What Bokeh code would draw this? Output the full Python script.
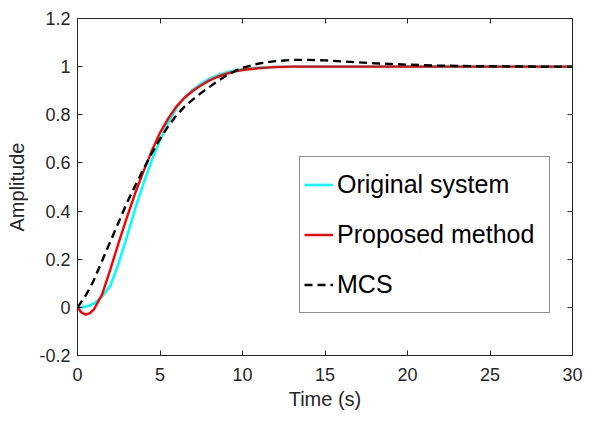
from bokeh.plotting import figure
from bokeh.models import FixedTicker, LinearAxis, Legend, LegendItem, Range1d
from bokeh.embed import file_html
from bokeh.resources import INLINE

# Step responses (time in seconds)
t = [0, 0.25, 0.5, 0.75, 1, 1.5, 2, 2.5, 3, 3.5, 4, 4.5, 5, 5.5, 6, 6.5, 7,
     7.5, 8, 8.5, 9, 9.5, 10, 11, 12, 13, 14, 15, 16, 17, 18, 19, 20, 22, 24,
     26, 28, 30]

original = [0, 0.001, 0.003, 0.008, 0.016, 0.045, 0.092, 0.185, 0.295, 0.41,
            0.515, 0.61, 0.695, 0.768, 0.828, 0.872, 0.905, 0.93, 0.95,
            0.965, 0.976, 0.984, 0.99, 0.996, 0.999, 1.0, 1.0, 1.0, 1.0,
            1.0, 1.0, 1.0, 1.0, 1.0, 1.0, 1.0, 1.0, 1.0]

proposed = [0, -0.022, -0.03, -0.024, -0.008, 0.055, 0.16, 0.27, 0.375, 0.475,
            0.565, 0.65, 0.725, 0.785, 0.835, 0.872, 0.9, 0.923, 0.943,
            0.958, 0.97, 0.979, 0.986, 0.994, 0.998, 1.0, 1.0, 1.0, 1.0,
            1.0, 1.0, 1.0, 1.0, 1.0, 1.0, 1.0, 1.0, 1.0]

mcs = [0, 0.025, 0.05, 0.08, 0.115, 0.195, 0.275, 0.355, 0.435, 0.505, 0.575,
       0.64, 0.7, 0.752, 0.798, 0.835, 0.864, 0.891, 0.916, 0.94, 0.962, 0.98,
       0.995, 1.013, 1.023, 1.028, 1.028, 1.026, 1.022, 1.018, 1.014, 1.011,
       1.008, 1.004, 1.002, 1.001, 1.0, 1.0]

x_ticks = [0, 5, 10, 15, 20, 25, 30]
y_ticks = [-0.2, 0, 0.2, 0.4, 0.6, 0.8, 1.0, 1.2]
y_tick_labels = ["-0.2", "0", "0.2", "0.4", "0.6", "0.8", "1", "1.2"]

FONT = "Liberation Sans"
INK = "#262626"

p = figure(width=603, height=422, output_backend="svg", toolbar_location=None,
           x_range=Range1d(0, 30), y_range=Range1d(-0.2, 1.2),
           min_border_left=77, min_border_right=31, min_border_top=18,
           min_border_bottom=67)
p.background_fill_color = "white"
p.border_fill_color = "white"
p.outline_line_color = INK
p.outline_line_width = 1
p.xgrid.visible = False
p.ygrid.visible = False

r_orig = p.line(t, original, line_color="#00FFFF", line_width=2.6)
r_prop = p.line(t, proposed, line_color="#FF0000", line_width=2.4)
r_mcs = p.line(t, mcs, line_color="black", line_width=2.4, line_dash="8 5")


def style_axis(ax):
    ax.axis_line_color = INK
    ax.major_tick_line_color = INK
    ax.major_tick_in = 5
    ax.major_tick_out = 0
    ax.minor_tick_line_color = None
    ax.major_label_text_font = FONT
    ax.major_label_text_font_size = "18px"
    ax.major_label_text_color = INK
    ax.axis_label_text_font = FONT
    ax.axis_label_text_font_size = "20px"
    ax.axis_label_text_font_style = "normal"
    ax.axis_label_text_color = INK


xa = p.xaxis[0]
xa.ticker = FixedTicker(ticks=x_ticks)
xa.axis_label = "Time (s)"
xa.major_label_standoff = 12
xa.axis_label_standoff = 4
style_axis(xa)

ya = p.yaxis[0]
ya.ticker = FixedTicker(ticks=y_ticks)
ya.major_label_overrides = {v: s for v, s in zip(y_ticks, y_tick_labels)}
ya.axis_label = "Amplitude"
ya.major_label_standoff = 7
ya.axis_label_standoff = 8
style_axis(ya)

# Mirrored tick marks on the top and right edges of the box (no labels)
for ticks, side in ((x_ticks, "above"), (y_ticks, "right")):
    ax = LinearAxis(ticker=FixedTicker(ticks=ticks))
    style_axis(ax)
    ax.major_label_text_color = None
    ax.major_label_text_alpha = 0
    ax.major_label_standoff = 0
    p.add_layout(ax, side)

legend = Legend(items=[
    LegendItem(label="Original system", renderers=[r_orig]),
    LegendItem(label="Proposed method", renderers=[r_prop]),
    LegendItem(label="MCS", renderers=[r_mcs]),
], location=(222, 42))
legend.label_text_font = FONT
legend.label_text_font_size = "25px"
legend.label_text_color = "black"
legend.glyph_width = 29
legend.glyph_height = 47
legend.label_height = 47
legend.label_width = 208
legend.label_standoff = 4
legend.spacing = 3
legend.padding = 4
legend.margin = 0
legend.border_line_color = INK
legend.border_line_width = 1
legend.background_fill_color = "white"
legend.background_fill_alpha = 1
p.add_layout(legend, "center")

open("out.html", "w").write(file_html(p, INLINE))
